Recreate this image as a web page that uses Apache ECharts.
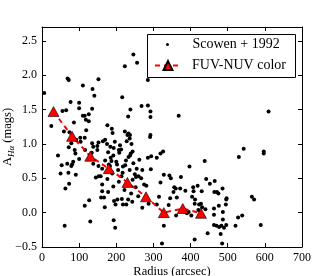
<!DOCTYPE html>
<html><head><meta charset="utf-8">
<script src="https://cdn.jsdelivr.net/npm/echarts@6/dist/echarts.min.js"></script>
<style>html,body{margin:0;padding:0;background:#fff}#c{width:336px;height:276px}</style>
</head><body><div id="c"></div>
<script>
// Scowen + 1992 points
const scowenRadius = [
6,69,72,110,152,136,141,77,100,100,
135,55,65,110,115,126,118,126,86,25,
59,74,119,115,103,176,188,190,216,223,
246,256,285,238,232,268,285,292,292,223,
233,237,292,368,610,
104,92,79,72,88,90,135,138,134,149,
149,116,43,100,84,81,79,68,53,138,
50,71,91,145,153,73,63,127,115,130,61,
164,170,152,236,230,291,184,193,207,213,
208,239,237,233,244,285,294,185,187,180,
183,200,202,205,218,224,162,152,158,217,
214,236,250,253,260,244,267,293,275,281,
162,162,167,159,169,194,203,198,215,232,
218,227,243,270,287,193,197,309,
175,228,241,196,210,178,192,170,226,246,
262,255,270,189,176,207,192,252,222,240,
259,178,
319,326,309,397,438,343,347,374,319,356,
360,354,372,386,315,345,363,407,419,408,
430,442,452,465,404,412,411,423,428,440,
431,421,341,361,402,390,395,463,463,328,
446,411,323,
543,530,597,597,486,471,475,464,497,496,
495,565,571,476,487,487,528,539,463,470,
477,483,490,496,521,589,481,485,328];
const scowenAH = [
1.74,1.95,1.93,1.85,1.94,1.80,1.70,1.61,1.60,1.52,
1.51,1.48,1.49,1.41,1.41,1.43,1.35,1.33,1.31,1.26,
1.18,1.17,1.20,1.09,1.09,1.27,1.22,1.16,1.68,2.13,
2.30,2.18,1.93,1.50,1.40,1.55,1.56,1.47,1.39,1.18,
1.15,1.13,1.13,1.41,1.47,
1.03,1.06,1.01,0.95,0.91,0.86,1.01,0.96,0.87,0.91,
0.97,0.91,0.83,0.78,0.74,0.70,0.68,0.71,0.69,0.71,
0.57,0.58,0.55,0.51,0.53,0.42,0.35,0.18,0.10,-0.13,-0.19,
1.04,1.06,1.02,1.08,1.13,1.10,0.96,0.94,0.91,0.92,
0.87,0.86,0.83,0.81,0.89,0.80,0.82,0.80,0.75,0.70,
0.68,0.74,0.70,0.62,0.67,0.69,0.64,0.68,0.53,0.58,
0.53,0.62,0.56,0.52,0.53,0.48,0.50,0.63,0.41,0.39,
0.41,0.31,0.22,0.22,0.08,0.17,0.19,0.12,0.20,0.19,
0.12,0.12,0.16,0.07,0.13,-0.11,-0.22,0.12,
1.00,1.04,1.00,1.03,0.98,0.88,0.83,0.76,0.76,0.72,
0.77,0.64,0.62,0.57,0.49,0.45,0.38,0.37,0.33,0.28,
0.24,0.30,
0.86,0.89,0.80,0.67,0.75,0.54,0.50,0.52,0.44,0.37,
0.35,0.30,0.35,0.32,0.23,0.21,0.22,0.37,0.39,0.31,
0.31,0.49,0.42,0.46,0.23,0.19,0.13,0.12,0.13,0.05,
0.08,0.04,0.11,-0.04,-0.04,-0.01,0.01,0.06,-0.03,-0.19,
-0.30,-0.39,-0.45,
0.93,0.81,0.89,0.86,0.35,0.30,0.28,0.30,0.21,0.19,
0.12,0.23,0.19,0.10,0.01,-0.10,-0.07,-0.04,-0.18,-0.19,
-0.21,-0.19,-0.22,-0.18,-0.19,-0.18,-0.31,-0.45,0.55];

// FUV-NUV color points
const colorRadius = [31,81,130,180,230,280,328,379,428];
const colorAH = [1.47,1.11,0.82,0.64,0.44,0.23,0.00,0.06,-0.01];

const xTicks = [0,100,200,300,400,500,600,700];
const yTicks = [-0.5,0.0,0.5,1.0,1.5,2.0,2.5];
const seriesNames = ['Scowen + 1992','FUV-NUV color'];

const FONT = 'Liberation Serif';
const chart = echarts.init(document.getElementById('c'), null, {renderer:'canvas'});

const axisLineStyle = {color:'#000', width:1};
function fmtY(v){
  const ok = yTicks.some(t => Math.abs(t - v) < 1e-6);
  if(!ok) return '';
  return v.toFixed(1).replace('-', '\u2212');
}
function fmtX(v){
  return xTicks.indexOf(Math.round(v)) >= 0 ? String(Math.round(v)) : '';
}

const option = {
  animation:false,
  backgroundColor:'#fff',
  grid:{left:42, right:34, top:27, bottom:29, containLabel:false, outerBoundsMode:'none'},
  xAxis:[{
    type:'value', min:0, max:700, interval:100, position:'bottom',
    axisLine:{show:true, onZero:false, lineStyle:axisLineStyle},
    axisTick:{show:true, inside:true, length:4, lineStyle:axisLineStyle},
    axisLabel:{color:'#000', fontFamily:FONT, fontSize:12, margin:5, formatter:fmtX, showMinLabel:true, showMaxLabel:true},
    splitLine:{show:false},
    name:'Radius (arcsec)', nameLocation:'middle', nameGap:18, nameMoveOverlap:false,
    nameTextStyle:{color:'#000', fontFamily:FONT, fontSize:12.5}
  },{
    type:'value', min:0, max:700, interval:100, position:'top',
    axisLine:{show:true, onZero:false, lineStyle:axisLineStyle},
    axisTick:{show:true, inside:true, length:4, lineStyle:axisLineStyle},
    axisLabel:{show:false}, splitLine:{show:false}
  }],
  yAxis:[{
    type:'value', min:-0.5, max:2.7, interval:0.5, position:'left',
    axisLine:{show:true, onZero:false, lineStyle:axisLineStyle},
    axisTick:{show:true, inside:true, length:4, lineStyle:axisLineStyle},
    axisLabel:{color:'#000', fontFamily:FONT, fontSize:12, margin:5, formatter:fmtY, showMinLabel:true, showMaxLabel:true},
    splitLine:{show:false},
    name:'{a|A}{s|H\u03b1}{a| (mags)}', nameLocation:'middle', nameGap:26, nameRotate:90, nameMoveOverlap:false,
    nameTextStyle:{color:'#000', fontFamily:FONT, fontSize:12.5,
      rich:{
        a:{fontFamily:FONT, fontSize:12.5, color:'#000', lineHeight:16, verticalAlign:'middle'},
        s:{fontFamily:FONT, fontSize:9, fontStyle:'italic', color:'#000', lineHeight:16, verticalAlign:'bottom'}
      }}
  },{
    type:'value', min:-0.5, max:2.7, interval:0.5, position:'right',
    axisLine:{show:true, onZero:false, lineStyle:axisLineStyle},
    axisTick:{show:true, inside:true, length:4, lineStyle:axisLineStyle},
    axisLabel:{show:false}, splitLine:{show:false}
  }],
  legend:[{
    data:[seriesNames[0]], left:166, top:37.5, padding:0, itemWidth:26, itemHeight:3, itemGap:0,
    textStyle:{color:'#000', fontFamily:FONT, fontSize:14, padding:[0,0,0,7]}, selectedMode:false
  },{
    data:[seriesNames[1]], left:154, top:58.5, padding:0, itemWidth:26, itemHeight:11, itemGap:0,
    textStyle:{color:'#000', fontFamily:FONT, fontSize:14, padding:[0,0,0,6]}, selectedMode:false
  }],
  graphic:[{
    type:'rect', shape:{x:147.5, y:34.5, width:148, height:43},
    style:{fill:'none', stroke:'#000', lineWidth:1}, z:100, silent:true
  }],
  series:[{
    name:seriesNames[0], type:'scatter', xAxisIndex:0, yAxisIndex:0,
    symbol:'circle', symbolSize:4,
    itemStyle:{color:'#000', opacity:1},
    data:scowenRadius.map((r,i)=>[r, scowenAH[i]]),
    z:2
  },{
    name:seriesNames[1], type:'line', xAxisIndex:0, yAxisIndex:0,
    symbol:'triangle', symbolSize:[11,10],
    lineStyle:{color:'#ff0000', width:2, type:[5,4]},
    itemStyle:{color:'#ff0000', borderColor:'#000', borderWidth:0.6, opacity:1},
    data:colorRadius.map((r,i)=>[r, colorAH[i]]),
    z:3
  }]
};
chart.setOption(option);
</script>
</body></html>
